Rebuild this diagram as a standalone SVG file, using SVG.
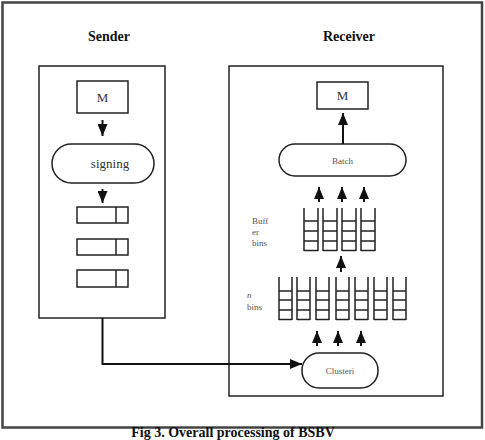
<svg xmlns="http://www.w3.org/2000/svg" width="485" height="440" viewBox="0 0 485 440">
<style>
.box{fill:#fff;stroke:#222;stroke-width:1.5}
.frame{fill:none;stroke:#444;stroke-width:2.5}
.title{font-family:"Liberation Serif",serif;font-weight:bold;font-size:14px;fill:#111}
.lbl{font-family:"Liberation Serif",serif;font-size:13px;fill:#333}
.small{font-family:"Liberation Serif",serif;font-size:9px;fill:#555}
.bin{fill:none;stroke:#222;stroke-width:1.5}
.conn{fill:none;stroke:#111;stroke-width:2}
</style>
<defs>
<marker id="ah" viewBox="0 0 12 10" refX="12" refY="5" markerWidth="6" markerHeight="5" orient="auto" markerUnits="strokeWidth">
<path d="M0,0 L12,5 L0,10 z" fill="#111"/>
</marker>
<g id="ladder4">
<path class="bin" d="M0,0 V43 M14,0 V43 M0,13 H14 M0,23 H14 M0,33 H14 M0,42.5 H14"/>
</g>
<g id="ladder7">
<path class="bin" d="M0,0 V43 M13,0 V43 M0,14 H13 M0,23 H13 M0,33 H13 M0,42.5 H13"/>
</g>
</defs>
<rect width="485" height="440" fill="#fff"/>
<rect class="frame" x="2.5" y="2.5" width="479.5" height="425"/>
<text class="title" x="109" y="41" text-anchor="middle">Sender</text>
<text class="title" x="349" y="41" text-anchor="middle">Receiver</text>

<g id="sender">
<rect class="box" x="39" y="66" width="126" height="252"/>
</g>
<g id="receiver">
<rect class="box" x="229" y="66" width="214" height="330"/>
</g>

<g id="s-m"><rect class="box" x="77" y="81" width="51" height="32"/><text class="lbl" x="102.5" y="102" text-anchor="middle">M</text></g>
<g id="signing"><rect class="box" x="52" y="144" width="102" height="39" rx="19.5"/><text class="lbl" x="110" y="168" text-anchor="middle" font-size="14">signing</text></g>
<g id="pkt1"><rect class="box" x="77" y="207" width="51" height="16"/><line class="box" x1="116" y1="207" x2="116" y2="223"/></g>
<g id="pkt2"><rect class="box" x="77" y="239" width="51" height="16"/><line class="box" x1="116" y1="239" x2="116" y2="255"/></g>
<g id="pkt3"><rect class="box" x="77" y="270" width="51" height="17"/><line class="box" x1="116" y1="270" x2="116" y2="287"/></g>

<g id="r-m"><rect class="box" x="317" y="82" width="51" height="27"/><text class="lbl" x="342.5" y="100" text-anchor="middle">M</text></g>
<g id="batch"><rect class="box" x="279" y="144" width="127" height="32" rx="16"/><text class="small" x="342.5" y="164" text-anchor="middle" font-size="11" fill="#444">Batch</text></g>
<g id="buffer-bins">
<use href="#ladder4" x="304" y="208"/>
<use href="#ladder4" x="323" y="208"/>
<use href="#ladder4" x="342" y="208"/>
<use href="#ladder4" x="361" y="208"/>
<text class="small" x="252" y="224">Buff</text>
<text class="small" x="252" y="235">er</text>
<text class="small" x="252" y="246">bins</text>
</g>
<g id="n-bins">
<use href="#ladder7" x="279" y="277"/>
<use href="#ladder7" x="297" y="277"/>
<use href="#ladder7" x="316" y="277"/>
<use href="#ladder7" x="336" y="277"/>
<use href="#ladder7" x="355" y="277"/>
<use href="#ladder7" x="374" y="277"/>
<use href="#ladder7" x="393" y="277"/>
<text class="small" x="247" y="298" font-style="italic" font-size="8">n</text>
<text class="small" x="247" y="310">bins</text>
</g>
<g id="clusteri"><rect class="box" x="302" y="353" width="76" height="35" rx="17"/><text class="small" x="340" y="374" text-anchor="middle" font-size="11" fill="#444">Clusteri</text></g>

<g id="connectors">
<line class="conn" x1="102.5" y1="120" x2="102.5" y2="136" marker-end="url(#ah)"/>
<line class="conn" x1="102.5" y1="189" x2="102.5" y2="203" marker-end="url(#ah)"/>
<line class="conn" x1="343" y1="144" x2="343" y2="113" marker-end="url(#ah)"/>
<line class="conn" x1="319" y1="202" x2="319" y2="187" marker-end="url(#ah)"/>
<line class="conn" x1="342" y1="202" x2="342" y2="187" marker-end="url(#ah)"/>
<line class="conn" x1="364" y1="202" x2="364" y2="187" marker-end="url(#ah)"/>
<line class="conn" x1="341" y1="272" x2="341" y2="256" marker-end="url(#ah)"/>
<line class="conn" x1="317" y1="346" x2="317" y2="331" marker-end="url(#ah)"/>
<line class="conn" x1="338" y1="346" x2="338" y2="331" marker-end="url(#ah)"/>
<line class="conn" x1="361" y1="346" x2="361" y2="331" marker-end="url(#ah)"/>
<path class="conn" d="M102.5,318 V364 H302" marker-end="url(#ah)"/>
</g>

<text class="title" x="233" y="437" text-anchor="middle" font-size="13">Fig 3. Overall processing of BSBV</text>
</svg>
